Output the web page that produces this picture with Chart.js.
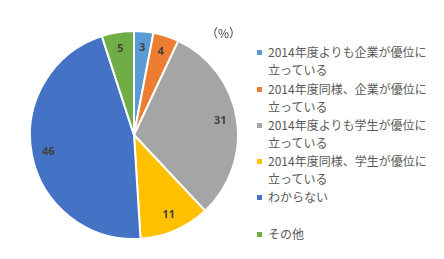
<!DOCTYPE html>
<html>
<head>
<meta charset="utf-8">
<script src="https://cdn.jsdelivr.net/npm/chart.js@4"></script>
<style>
  body { margin: 0; background: #fff; width: 444px; height: 259px; overflow: hidden; position: relative; font-family: "Noto Sans CJK JP", sans-serif; }
  #wrap { position: absolute; left: 29px; top: 30px; width: 210px; height: 210px; }
  #unit { position: absolute; left: 206px; top: 24px; font-size: 12px; color: #404040; }
  .item { position: absolute; left: 257px; font-size: 12px; line-height: 18.2px; color: #595959; }
  .item i { position: absolute; left: 0; top: 7px; width: 5px; height: 5px; }
  .item span { display: block; margin-left: 11px; white-space: nowrap; }
</style>
</head>
<body>
<div id="wrap"><canvas id="pie"></canvas></div>
<div id="unit">（%）</div>
<div id="legend"></div>
<script>
// answer categories and shares (%)
const categories = [
    ['2014年度よりも企業が優位に', '立っている'],
    ['2014年度同様、企業が優位に', '立っている'],
    ['2014年度よりも学生が優位に', '立っている'],
    ['2014年度同様、学生が優位に', '立っている'],
    ['わからない'],
    ['その他']
];
const values = [3, 4, 31, 11, 46, 5];
const colors = ['#5B9BD5', '#ED7D31', '#A5A5A5', '#FFC000', '#4472C4', '#70AD47'];

// legend, two lines per entry
const legend = document.getElementById('legend');
const tops = [43, 80, 116, 152, 188, 225];
categories.forEach((lines, i) => {
    const d = document.createElement('div');
    d.className = 'item';
    d.style.top = tops[i] + 'px';
    d.innerHTML = `<i style="background:${colors[i]}"></i>` + lines.map(t => `<span>${t}</span>`).join('');
    legend.appendChild(d);
});

// numbers inside slices
const sliceLabels = {
    id: 'sliceLabels',
    afterDatasetsDraw(chart) {
        const ctx = chart.ctx;
        const meta = chart.getDatasetMeta(0);
        ctx.save();
        ctx.font = 'bold 11px "Noto Sans", sans-serif';
        ctx.fillStyle = '#404040';
        ctx.textAlign = 'center';
        ctx.textBaseline = 'middle';
        meta.data.forEach((arc, i) => {
            const mid = (arc.startAngle + arc.endAngle) / 2;
            const r = arc.outerRadius * 0.84;
            ctx.fillText(String(values[i]), arc.x + Math.cos(mid) * r, arc.y + Math.sin(mid) * r);
        });
        ctx.restore();
    }
};

new Chart(document.getElementById('pie').getContext('2d'), {
    type: 'pie',
    data: {
        labels: categories.map(c => c.join('')),
        datasets: [{
            data: values,
            backgroundColor: colors,
            borderColor: '#fff',
            borderWidth: 2
        }]
    },
    options: {
        responsive: true,
        maintainAspectRatio: false,
        animation: false,
        layout: { padding: 0 },
        plugins: {
            legend: { display: false },
            tooltip: { enabled: false }
        }
    },
    plugins: [sliceLabels]
});
</script>
</body>
</html>
